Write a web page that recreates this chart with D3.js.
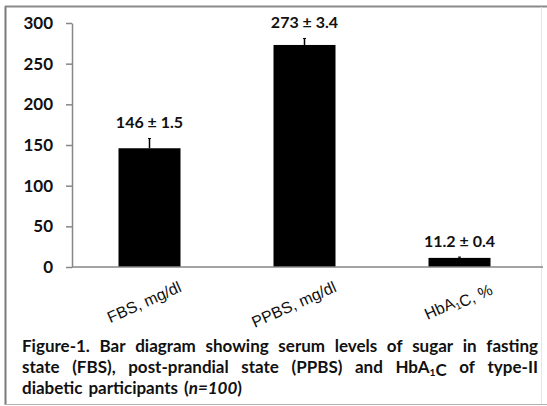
<!DOCTYPE html>
<html>
<head>
<meta charset="utf-8">
<script src="https://cdn.jsdelivr.net/npm/d3@7"></script>
<style>
  body { margin: 0; background: #fff; }
  svg { display: block; font-family: Lato, "Open Sans", sans-serif; }
</style>
</head>
<body>
<div id="chart"></div>
<script>
// data
const categories = ["FBS, mg/dl", "PPBS, mg/dl", "HbA_1C, %"];
const means = [146, 273, 11.2];
const errLabels = ["1.5", "3.4", "0.4"];
const whiskers = [12, 8, 1];          // drawn error bar length (as it appears)
const yTicks = [0, 50, 100, 150, 200, 250, 300];
const captionLines = [
  "Figure-1. Bar diagram showing serum levels of sugar in fasting",
  "state (FBS), post-prandial state (PPBS) and HbA_1C of type-II",
  "diabetic participants (*n=100*)"
];

const W = 547, H = 406;
const svg = d3.select("#chart").append("svg").attr("width", W).attr("height", H);

// frame
svg.append("line").attr("x1", 5.5).attr("y1", 6).attr("x2", 5.5).attr("y2", 405)
   .attr("stroke", "#7a7a7a").attr("stroke-width", 2);
svg.append("line").attr("x1", 5).attr("y1", 6.5).attr("x2", 547).attr("y2", 6.5)
   .attr("stroke", "#8a8a8a").attr("stroke-width", 2);
svg.append("line").attr("x1", 541.5).attr("y1", 7).attr("x2", 541.5).attr("y2", 405)
   .attr("stroke", "#e6e6e6").attr("stroke-width", 1);
svg.append("line").attr("x1", 5).attr("y1", 404.5).attr("x2", 547).attr("y2", 404.5)
   .attr("stroke", "#b0b0b0").attr("stroke-width", 1);

const x = d3.scaleBand().domain(categories).range([72, 537]).paddingInner(0.6).paddingOuter(0.3);
const y = d3.scaleLinear().domain([0, 300]).range([267, 23]);

// helper: write text with "_x" subscript and *italic* into a selection
function richText(sel, str, size) {
  const parts = str.split(/(_\d|\*[^*]+\*)/).filter(s => s.length);
  parts.forEach(p => {
    if (p[0] === "_") {
      sel.append("tspan").attr("font-size", size * 0.6).attr("dy", 3).text(p.slice(1));
      sel.append("tspan").attr("dy", -3).text("");
    } else if (p[0] === "*") {
      sel.append("tspan").attr("font-style", "italic").text(p.slice(1, -1));
    } else {
      sel.append("tspan").text(p);
    }
  });
}

// y axis
const yAxis = svg.append("g").attr("transform", "translate(72,0)")
  .call(d3.axisLeft(y).tickValues(yTicks).tickSize(6).tickSizeOuter(0).tickPadding(13));
yAxis.select(".domain").attr("stroke", "#868686").attr("stroke-width", 1.5);
yAxis.selectAll(".tick line").attr("stroke", "#868686").attr("stroke-width", 1.5);
yAxis.selectAll(".tick text").attr("font-size", 17).attr("font-weight", "bold")
  .attr("fill", "#111").attr("font-family", "Lato, sans-serif");

// bars
svg.selectAll("rect.bar").data(means).enter().append("rect")
  .attr("class", "bar")
  .attr("x", (d, i) => x(categories[i]))
  .attr("y", d => y(d))
  .attr("width", x.bandwidth())
  .attr("height", d => y(0) - y(d))
  .attr("fill", "#000");

// error whiskers
svg.selectAll("line.err").data(means).enter().append("line")
  .attr("class", "err")
  .attr("x1", (d, i) => x(categories[i]) + x.bandwidth() / 2)
  .attr("x2", (d, i) => x(categories[i]) + x.bandwidth() / 2)
  .attr("y1", d => y(d))
  .attr("y2", (d, i) => y(d + whiskers[i]))
  .attr("stroke", "#000").attr("stroke-width", 1.5);
svg.selectAll("line.cap").data(means).enter().append("line")
  .attr("class", "cap")
  .attr("x1", (d, i) => x(categories[i]) + x.bandwidth() / 2 - 1.5)
  .attr("x2", (d, i) => x(categories[i]) + x.bandwidth() / 2 + 1.5)
  .attr("y1", (d, i) => y(d + whiskers[i]))
  .attr("y2", (d, i) => y(d + whiskers[i]))
  .attr("stroke", "#000").attr("stroke-width", 1);

// value labels
svg.selectAll("text.val").data(means).enter().append("text")
  .attr("class", "val")
  .attr("x", (d, i) => x(categories[i]) + x.bandwidth() / 2)
  .attr("y", (d, i) => y(d + whiskers[i]) - 10)
  .attr("text-anchor", "middle")
  .attr("font-size", 16).attr("font-weight", "bold").attr("fill", "#111")
  .text((d, i) => d + " \u00b1 " + errLabels[i]);

// x axis
const xAxis = svg.append("g").attr("transform", "translate(0,267)")
  .call(d3.axisBottom(x).tickSize(0).tickSizeOuter(0).tickFormat(""));
xAxis.select(".domain").attr("d", "M72,0H543").attr("stroke", "#868686").attr("stroke-width", 1.5);
xAxis.selectAll(".tick").each(function(d) {
  const t = d3.select(this).append("text")
    .attr("transform", "translate(33,24) rotate(-24)")
    .attr("text-anchor", "end")
    .attr("font-size", 16).attr("fill", "#111");
  richText(t, d, 16);
});

// caption, justified
const capLeft = 22, capRight = 538, capBase = [352, 373, 394];
const capG = svg.append("g").attr("font-size", 17).attr("font-weight", "bold").attr("fill", "#111");
captionLines.forEach((line, li) => {
  const words = line.split(" ");
  const nodes = words.map(w => {
    const t = capG.append("text").attr("y", capBase[li]);
    richText(t, w, 17);
    return t;
  });
  const widths = nodes.map(n => n.node().getComputedTextLength());
  const total = d3.sum(widths);
  const last = li === captionLines.length - 1;
  const gap = last ? 6 : (capRight - capLeft - total) / (words.length - 1);
  let cx = capLeft;
  nodes.forEach((n, i) => { n.attr("x", cx); cx += widths[i] + gap; });
});
</script>
</body>
</html>
